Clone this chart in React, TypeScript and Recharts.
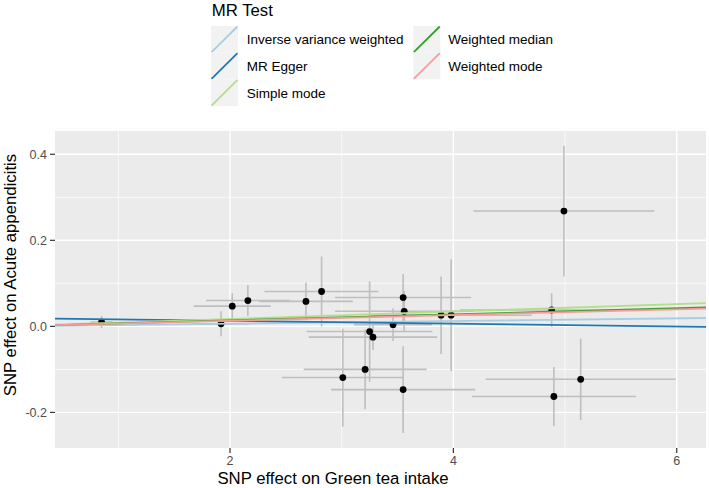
import React from 'react';
import { ScatterChart, Scatter, XAxis, YAxis, CartesianGrid, ErrorBar, Label } from 'recharts';

const FONT = "'Liberation Sans', Arial, Helvetica, sans-serif";

// SNP-level estimates
const snpX = [0.85, 1.92, 2.02, 2.16, 2.68, 2.82, 3.01, 3.21, 3.25, 3.28, 3.46, 3.55, 3.56, 3.55, 3.89, 3.98, 4.88, 4.99, 4.9, 5.14];
const snpY = [0.01, 0.006, 0.047, 0.06, 0.058, 0.081, -0.119, -0.1, -0.012, -0.025, 0.004, 0.067, 0.035, -0.147, 0.026, 0.026, 0.038, 0.268, -0.163, -0.123];
const seX = [0.1, 0.25, 0.345, 0.376, 0.42, 0.51, 0.545, 0.55, 0.562, 0.575, 0.35, 0.61, 0.62, 0.645, 0.45, 0.72, 0.82, 0.81, 0.735, 0.85];
const seY = [0.014, 0.029, 0.0305, 0.036, 0.0435, 0.0815, 0.1135, 0.0925, 0.117, 0.03, 0.038, 0.055, 0.047, 0.101, 0.09, 0.13, 0.039, 0.152, 0.0685, 0.0945];

// MR methods
const methods = ['Inverse variance weighted', 'MR Egger', 'Simple mode', 'Weighted median', 'Weighted mode'];
const methodIntercepts = [0, 0.0194, 0, 0, 0];
const methodSlopes = [0.0031, -0.00326, 0.0086, 0.007, 0.0066];
const methodColors = ['#a6cee3', '#1f78b4', '#b2df8a', '#33a02c', '#fb9a99'];

// axes
const xTicks = [2, 4, 6];
const yTicks = [-0.2, 0, 0.2, 0.4];
const xMinor = [1, 3, 5];
const yMinor = [-0.1, 0.1, 0.3];
const xDomain: [number, number] = [0.433, 6.262];
const yDomain: [number, number] = [-0.2827, 0.4541];

const points = snpX.map((x, i) => ({ x, y: snpY[i], sx: seX[i], sy: seY[i] }));
const fitLines = methods.map((m, i) =>
  xDomain.map((x) => ({ x, y: methodIntercepts[i] + methodSlopes[i] * x }))
);

const legendLayout = [
  { col: 0, row: 0 },
  { col: 0, row: 1 },
  { col: 0, row: 2 },
  { col: 1, row: 0 },
  { col: 1, row: 1 },
];

function LegendOverlay() {
  const colKeyX = [211, 413.3];
  const colTextX = [246.7, 448.3];
  const keyTop = 26;
  const keyH = 26.7;
  const keyW = 27;
  return (
    <svg
      width={709}
      height={112}
      style={{ position: 'absolute', left: 0, top: 0, pointerEvents: 'none' }}
    >
      <text x={211.7} y={15.7} fontSize={16.8} fontFamily={FONT} fill="#000">
        MR Test
      </text>
      {methods.map((m, i) => {
        const { col, row } = legendLayout[i];
        const kx = colKeyX[col];
        const ky = keyTop + row * keyH;
        return (
          <g key={m}>
            <rect x={kx} y={ky} width={keyW} height={keyH} fill="#F2F2F2" />
            <line
              x1={kx + 0.5}
              y1={ky + keyH - 0.5}
              x2={kx + keyW - 0.5}
              y2={ky + 0.5}
              stroke={methodColors[i]}
              strokeWidth={1.8}
            />
            <text
              x={colTextX[col]}
              y={ky + keyH / 2 + 4.8}
              fontSize={13.5}
              fontFamily={FONT}
              fill="#000"
            >
              {m}
            </text>
          </g>
        );
      })}
    </svg>
  );
}

const Dot = (p: any) => <circle cx={p.cx} cy={p.cy} r={3.4} fill="#000" />;
const NoShape = () => <g />;

export default function App() {
  return (
    <div
      style={{
        position: 'absolute',
        left: 0,
        top: 0,
        width: 709,
        height: 488,
        background: '#fff',
        fontFamily: FONT,
      }}
    >
      <ScatterChart width={709} height={488} margin={{ top: 131, right: 3, bottom: 0, left: 0 }}>
        <CartesianGrid
          fill="#EBEBEB"
          stroke="#FFFFFF"
          strokeWidth={0.7}
          horizontalValues={yMinor}
          verticalValues={xMinor}
        />
        <CartesianGrid stroke="#FFFFFF" strokeWidth={1.4} horizontalValues={yTicks} verticalValues={xTicks} />
        <XAxis
          type="number"
          dataKey="x"
          domain={xDomain}
          ticks={xTicks}
          allowDataOverflow
          interval={0}
          height={40}
          axisLine={false}
          tickSize={5}
          tickMargin={3}
          tickLine={{ stroke: '#333333', strokeWidth: 1.2 }}
          tick={{ fill: '#4D4D4D', fontSize: 12.5, fontFamily: FONT }}
        >
          <Label
            content={() => (
              <text x={333} y={484} textAnchor="middle" fontSize={16.75} fontFamily={FONT} fill="#000">
                SNP effect on Green tea intake
              </text>
            )}
          />
        </XAxis>
        <YAxis
          type="number"
          dataKey="y"
          domain={yDomain}
          ticks={yTicks}
          allowDataOverflow
          interval={0}
          width={55}
          axisLine={false}
          tickSize={5}
          tickMargin={3}
          tickLine={{ stroke: '#333333', strokeWidth: 1.2 }}
          tick={{ fill: '#4D4D4D', fontSize: 12.5, fontFamily: FONT }}
          tickFormatter={(v: number) => v.toFixed(1)}
        >
          <Label
            content={() => (
              <text
                x={16}
                y={275}
                transform="rotate(-90 16 275)"
                textAnchor="middle"
                fontSize={16.75}
                fontFamily={FONT}
                fill="#000"
              >
                SNP effect on Acute appendicitis
              </text>
            )}
          />
        </YAxis>
        <Scatter data={points} shape={Dot} isAnimationActive={false} legendType="none">
          <ErrorBar dataKey="sy" direction="y" width={0} stroke="#BEBEBE" strokeWidth={1.6} isAnimationActive={false} />
          <ErrorBar dataKey="sx" direction="x" width={0} stroke="#BEBEBE" strokeWidth={1.6} isAnimationActive={false} />
        </Scatter>
        {fitLines.map((d, i) => (
          <Scatter
            key={methods[i]}
            name={methods[i]}
            data={d}
            line={{ stroke: methodColors[i], strokeWidth: 1.8 }}
            shape={NoShape}
            isAnimationActive={false}
            legendType="none"
          />
        ))}
      </ScatterChart>
      <LegendOverlay />
    </div>
  );
}
